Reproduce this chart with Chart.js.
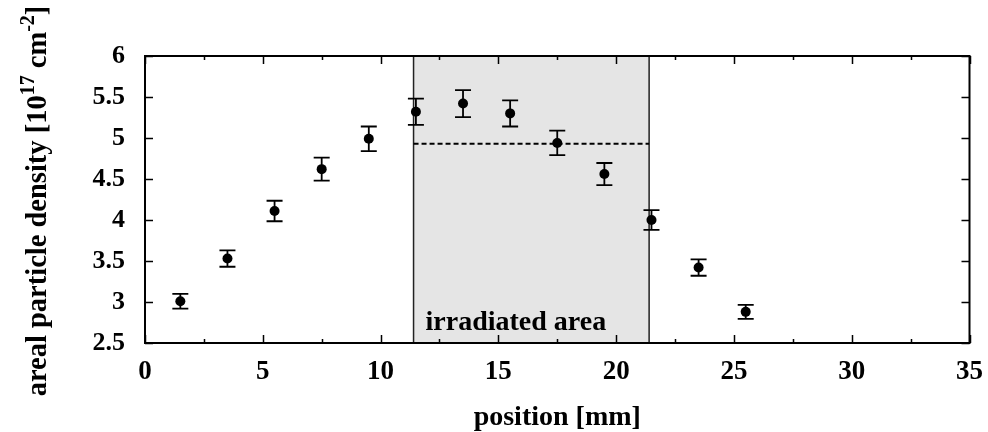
<!DOCTYPE html>
<html><head><meta charset="utf-8">
<script src="https://cdn.jsdelivr.net/npm/chart.js@4/dist/chart.umd.min.js"></script>
<style>html,body{margin:0;padding:0;background:#fff}#wrap{width:988px;height:432px}</style>
</head><body><div id="wrap"><canvas id="c"></canvas></div>
<script>
// ---- data ----
const positions  = [1.5, 3.5, 5.5, 7.5, 9.5, 11.5, 13.5, 15.5, 17.5, 19.5, 21.5, 23.5, 25.5];
const density    = [3.01, 3.53, 4.11, 4.62, 4.99, 5.32, 5.42, 5.30, 4.94, 4.56, 4.00, 3.42, 2.88];
const densityErr = [0.09, 0.10, 0.125, 0.14, 0.15, 0.16, 0.165, 0.16, 0.15, 0.135, 0.12, 0.10, 0.085];
const irradiatedRange = [11.4, 21.4];
const meanLevel = [4.93, 4.93];
const xTickValues = [0, 5, 10, 15, 20, 25, 30, 35];
const xMinorTicks = [2.5, 7.5, 12.5, 17.5, 22.5, 27.5, 32.5];
const yTickValues = [2.5, 3, 3.5, 4, 4.5, 5, 5.5, 6];
const xTitle = 'position [mm]';
const yTitleParts = [['areal particle density [10', false], ['17', true], [' cm', false], ['-2', true], [']', false]];
const areaLabel = 'irradiated area';

const SERIF = '"Liberation Serif", "Times New Roman", serif';

const decor = {
  id: 'decor',
  beforeDatasetsDraw(chart) {
    const ctx = chart.ctx, xs = chart.scales.x, ys = chart.scales.y, a = chart.chartArea;
    const x0 = xs.getPixelForValue(irradiatedRange[0]), x1 = xs.getPixelForValue(irradiatedRange[1]);
    ctx.save();
    ctx.fillStyle = '#e5e5e5';
    ctx.fillRect(x0, a.top, x1 - x0, a.bottom - a.top);
    ctx.strokeStyle = '#222'; ctx.lineWidth = 1.5;
    ctx.beginPath();
    ctx.moveTo(x0, a.top); ctx.lineTo(x0, a.bottom);
    ctx.moveTo(x1, a.top); ctx.lineTo(x1, a.bottom);
    ctx.stroke();
    ctx.fillStyle = '#000';
    ctx.font = 'bold 28px ' + SERIF;
    ctx.textBaseline = 'alphabetic'; ctx.textAlign = 'left';
    ctx.fillText(areaLabel, x0 + 12, a.bottom - 13);
    // error bars
    ctx.strokeStyle = '#000'; ctx.lineWidth = 1.8;
    ctx.beginPath();
    positions.forEach((p, i) => {
      const px = xs.getPixelForValue(p);
      const yt = ys.getPixelForValue(density[i] + densityErr[i]);
      const yb = ys.getPixelForValue(density[i] - densityErr[i]);
      ctx.moveTo(px, yt); ctx.lineTo(px, yb);
      ctx.moveTo(px - 8, yt); ctx.lineTo(px + 8, yt);
      ctx.moveTo(px - 8, yb); ctx.lineTo(px + 8, yb);
    });
    ctx.stroke();
    ctx.restore();
  },
  afterDraw(chart) {
    const ctx = chart.ctx, xs = chart.scales.x, ys = chart.scales.y, a = chart.chartArea;
    ctx.save();
    ctx.strokeStyle = '#000'; ctx.lineWidth = 1.5;
    ctx.beginPath();
    xTickValues.forEach(v => {
      const px = Math.round(xs.getPixelForValue(v)) + 0.5;
      ctx.moveTo(px, a.bottom); ctx.lineTo(px, a.bottom - 8);
      ctx.moveTo(px, a.top); ctx.lineTo(px, a.top + 8);
    });
    xMinorTicks.forEach(v => {
      const px = Math.round(xs.getPixelForValue(v)) + 0.5;
      ctx.moveTo(px, a.bottom); ctx.lineTo(px, a.bottom - 4);
      ctx.moveTo(px, a.top); ctx.lineTo(px, a.top + 4);
    });
    yTickValues.forEach(v => {
      const py = Math.round(ys.getPixelForValue(v)) + 0.5;
      ctx.moveTo(a.left, py); ctx.lineTo(a.left + 8, py);
      ctx.moveTo(a.right, py); ctx.lineTo(a.right - 8, py);
    });
    ctx.stroke();
    ctx.lineWidth = 2;
    ctx.strokeRect(a.left, a.top, a.right - a.left, a.bottom - a.top);
    // x title
    ctx.fillStyle = '#000';
    ctx.font = 'bold 28px ' + SERIF;
    ctx.textAlign = 'center'; ctx.textBaseline = 'alphabetic';
    ctx.fillText(xTitle, (a.left + a.right) / 2, 425);
    // y title with superscripts
    const mainFont = 'bold 28.5px ' + SERIF, supFont = 'bold 20px ' + SERIF;
    let total = 0;
    yTitleParts.forEach(([t, sup]) => { ctx.font = sup ? supFont : mainFont; total += ctx.measureText(t).width; });
    ctx.translate(46, 201);
    ctx.rotate(-Math.PI / 2);
    ctx.textAlign = 'left';
    let cx = -total / 2;
    yTitleParts.forEach(([t, sup]) => {
      ctx.font = sup ? supFont : mainFont;
      ctx.fillText(t, cx, sup ? -12 : 0);
      cx += ctx.measureText(t).width;
    });
    ctx.restore();
  }
};

new Chart(document.getElementById('c'), {
  type: 'scatter',
  data: {
    datasets: [
      {
        data: positions.map((x, i) => ({ x, y: density[i] })),
        pointRadius: 5, pointHoverRadius: 5,
        backgroundColor: '#000', borderColor: '#000', borderWidth: 0,
        showLine: false
      },
      {
        type: 'line',
        data: irradiatedRange.map((x, i) => ({ x, y: meanLevel[i] })),
        borderColor: '#000', borderWidth: 2, borderDash: [5, 3],
        pointRadius: 0, fill: false
      }
    ]
  },
  options: {
    responsive: true, maintainAspectRatio: false, animation: false,
    layout: { padding: { left: 0, top: 56, right: 14, bottom: 0 } },
    plugins: { legend: { display: false }, tooltip: { enabled: false } },
    scales: {
      x: {
        type: 'linear', min: 0, max: 35,
        afterBuildTicks: s => { s.ticks = xTickValues.map(v => ({ value: v })); },
        ticks: { color: '#000', font: { family: SERIF, size: 27, weight: 'bold' }, padding: 5, maxRotation: 0, callback: v => String(v) },
        grid: { display: false }, border: { display: false },
        afterFit: s => { s.height = 89; }
      },
      y: {
        type: 'linear', min: 2.5, max: 6,
        afterBuildTicks: s => { s.ticks = yTickValues.map(v => ({ value: v })); },
        ticks: { color: '#000', font: { family: SERIF, size: 26, weight: 'bold' }, padding: 12, callback: v => String(v) },
        grid: { display: false }, border: { display: false },
        afterFit: s => { s.width = 145; }
      }
    }
  },
  plugins: [decor]
});
</script>
</body></html>
